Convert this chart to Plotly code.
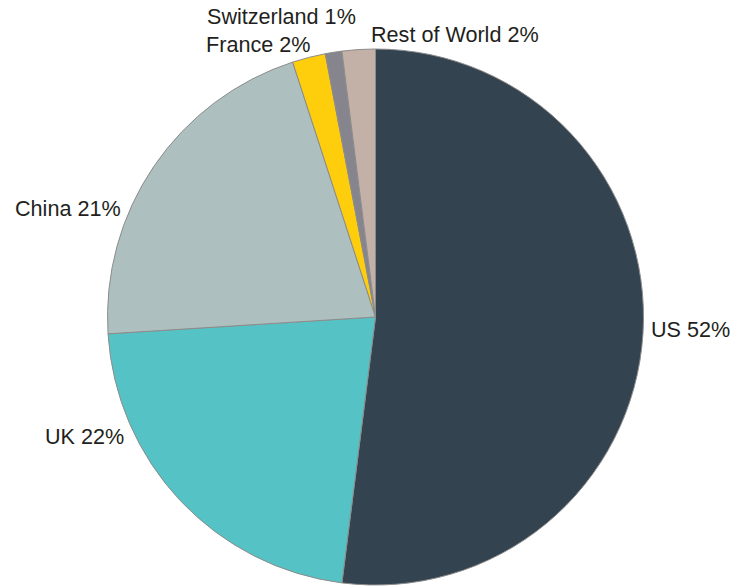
import math
import plotly.graph_objects as go

# Share of total by country
countries = ["US", "UK", "China", "France", "Switzerland", "Rest of World"]
shares = [52, 22, 21, 2, 1, 2]
colors = ["#33434f", "#55c3c5", "#adc0bf", "#fecd0c", "#86858e", "#c3b0a7"]

W, H = 734, 586
CX, CY, R = 375.5, 317.0, 268.0  # pie centre and radius in page pixels

# Label placement: (angle shift from slice middle, dx, dy, xanchor, yanchor)
label_layout = [
    (-1.0, 6, 0, "left", "middle"),
    (20.7, -2, 2, "right", "top"),
    (-13.2, -2, 2, "right", "bottom"),
    (0.0, 3, 2, "right", "bottom"),
    (0.0, 24, -21, "right", "bottom"),
    (0.0, 10, -1, "left", "bottom"),
]

fig = go.Figure(
    go.Pie(
        labels=countries,
        values=shares,
        sort=False,
        direction="clockwise",
        rotation=0,
        marker=dict(colors=colors, line=dict(color="#8c8c8c", width=1)),
        textinfo="none",
        hoverinfo="label+percent",
        showlegend=False,
        domain=dict(x=[(CX - R - 40) / W, (CX + R + 40) / W],
                    y=[1 - (CY + R) / H, 1 - (CY - R) / H]),
    )
)

total = sum(shares)
cum = 0.0
annotations = []
for name, val, (shift, dx, dy, xa, ya) in zip(countries, shares, label_layout):
    start = cum / total * 360
    cum += val
    end = cum / total * 360
    ang = math.radians((start + end) / 2 + shift)
    px = CX + R * math.sin(ang) + dx
    py = CY - R * math.cos(ang) + dy
    annotations.append(dict(
        x=px / W, y=1 - py / H, xref="paper", yref="paper",
        text=f"{name} {round(val / total * 100)}%",
        showarrow=False, xanchor=xa, yanchor=ya,
        font=dict(family="Liberation Sans, Arial, sans-serif", size=21.6, color="#231f20"),
    ))

fig.update_layout(
    width=W, height=H,
    margin=dict(l=0, r=0, t=0, b=0),
    paper_bgcolor="white",
    plot_bgcolor="white",
    annotations=annotations,
)

fig.write_html("out.html")
